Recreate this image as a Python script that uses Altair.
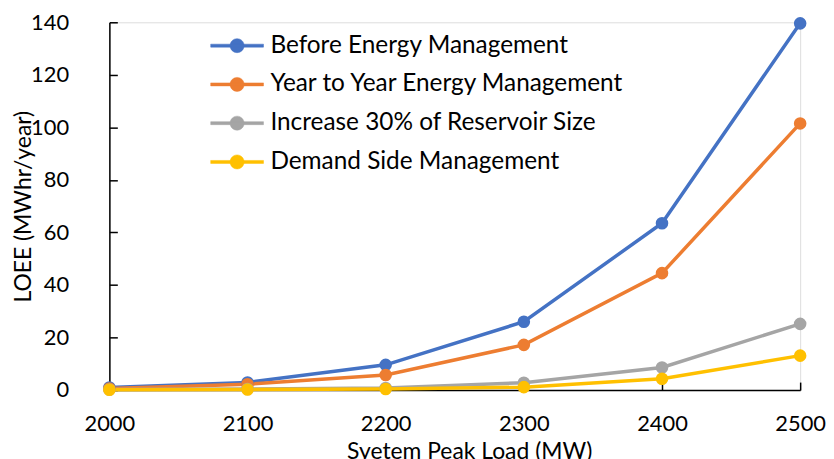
import altair as alt
import pandas as pd

loads = [2000, 2100, 2200, 2300, 2400, 2500]
series_names = [
    "Before Energy Management",
    "Year to Year Energy Management",
    "Increase 30% of Reservoir Size",
    "Demand Side Management",
]
before = [1.0, 2.9, 9.6, 26.0, 63.5, 139.6]
year_to_year = [0.6, 2.2, 5.7, 17.2, 44.5, 101.5]
reservoir = [0.2, 0.4, 0.8, 2.8, 8.6, 25.2]
dsm = [0.1, 0.2, 0.4, 1.1, 4.3, 13.1]
colors = ["#4472C4", "#ED7D31", "#A5A5A5", "#FFC000"]

y_ticks = [0, 20, 40, 60, 80, 100, 120, 140]
x_ticks = loads

rows = []
for name, vals in zip(series_names, [before, year_to_year, reservoir, dsm]):
    for x, v in zip(loads, vals):
        rows.append({"load": x, "loee": v, "series": name})
df = pd.DataFrame(rows)

FONT = "Lato"
legend_path = ("M-1.77,-0.1L1.77,-0.1L1.77,0.1L-1.77,0.1Z "
               "M0.47,0A0.47,0.47 0 1,1 -0.47,0A0.47,0.47 0 1,1 0.47,0Z")

color = alt.Color(
    "series:N",
    scale=alt.Scale(domain=series_names, range=colors),
    sort=series_names,
    legend=alt.Legend(
        orient="none", legendX=113, legendY=8, title=None,
        symbolType=legend_path, symbolSize=900, symbolStrokeWidth=0.5,
        labelFont=FONT, labelFontSize=24.5, labelColor="#000000",
        labelOffset=18, rowPadding=12, padding=0, labelLimit=600,
    ),
)

x = alt.X(
    "load:Q",
    scale=alt.Scale(domain=[2000, 2500], nice=False, zero=False),
    axis=alt.Axis(
        values=x_ticks, format="d", title="Syetem Peak Load (MW)",
        grid=False, domainColor="#000000", domainWidth=1.5,
        tickColor="#000000", tickWidth=1.5, tickSize=alt.ExprRef(expr="-8"),
        labelPadding=32, labelFont=FONT, labelFontSize=22, labelColor="#000000",
        labelBaseline="top", labelFlush=False,
        titleFont=FONT, titleFontSize=23, titleFontWeight="normal", titleColor="#000000",
        titleX=362, titleY=62, titleBaseline="middle", titleAnchor="middle",
    ),
)
y = alt.Y(
    "loee:Q",
    scale=alt.Scale(domain=[0, 140], nice=False),
    axis=alt.Axis(
        values=y_ticks, title="LOEE (MWhr/year)", grid=False,
        domainColor="#000000", domainWidth=1.5,
        tickColor="#000000", tickWidth=1.5, tickSize=alt.ExprRef(expr="-8"),
        labelPadding=49, labelFont=FONT, labelFontSize=22, labelColor="#000000",
        titleFont=FONT, titleFontSize=23, titleFontWeight="normal", titleColor="#000000",
        titleX=-86, titleY=185, titleAngle=-90, titleBaseline="middle", titleAnchor="middle",
    ),
)

lines = alt.Chart(df).mark_line(strokeWidth=3.5).encode(x=x, y=y, color=color)
points = alt.Chart(df).mark_point(filled=True, size=160, opacity=1).encode(x=x, y=y, color=color)

chart = alt.layer(lines, points).properties(
    width=695, height=370,
    autosize=alt.AutoSizeParams(type="none"),
    padding={"left": 102, "top": 13, "right": 26, "bottom": 68},
).configure_view(stroke=None).configure(background="#ffffff")

chart.save("out.html", embed_options={"renderer": "svg", "actions": False})
